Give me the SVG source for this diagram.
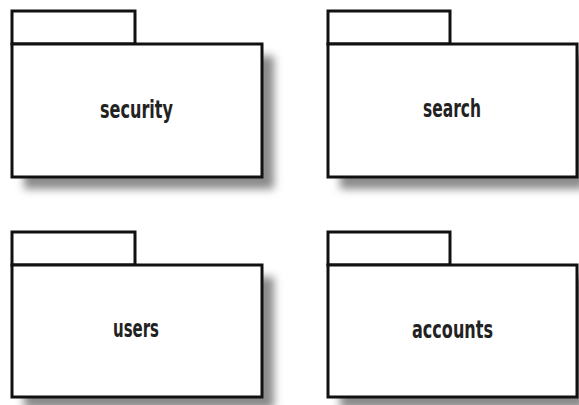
<svg xmlns="http://www.w3.org/2000/svg" width="579" height="405" viewBox="0 0 579 405">
<defs>
<filter id="sh" x="-10%" y="-10%" width="130%" height="130%">
<feGaussianBlur stdDeviation="4"/>
</filter>
<style>
.shadow{fill:#8a8a8a;filter:url(#sh)}
.box{fill:#fff;stroke:#111;stroke-width:3}
.lbl{font-family:"DejaVu Sans",sans-serif;font-weight:bold;font-size:25px;fill:#222;text-anchor:middle}
</style>
</defs>
<rect width="579" height="405" fill="#fff"/>
<g id="security">
<rect class="shadow" x="24" y="56" width="250" height="133"/>
<rect class="box" x="12" y="11" width="123" height="33"/>
<rect class="box" x="12" y="44" width="250" height="133"/>
<text class="lbl" x="136.5" y="118" textLength="73" lengthAdjust="spacingAndGlyphs">security</text>
</g>
<g id="search">
<rect class="shadow" x="340" y="56" width="245" height="133"/>
<rect class="box" x="328" y="11" width="122" height="33"/>
<rect class="box" x="328" y="44" width="249" height="133"/>
<text class="lbl" x="452" y="117" textLength="58" lengthAdjust="spacingAndGlyphs">search</text>
</g>
<g id="users">
<rect class="shadow" x="24" y="277" width="250" height="132"/>
<rect class="box" x="12" y="232" width="123" height="33"/>
<rect class="box" x="12" y="265" width="250" height="132"/>
<text class="lbl" x="136" y="337" textLength="46" lengthAdjust="spacingAndGlyphs">users</text>
</g>
<g id="accounts">
<rect class="shadow" x="340" y="277" width="245" height="132"/>
<rect class="box" x="328" y="232" width="122" height="33"/>
<rect class="box" x="328" y="265" width="249" height="132"/>
<text class="lbl" x="452.5" y="338" textLength="81" lengthAdjust="spacingAndGlyphs">accounts</text>
</g>
<g id="connectors"/>
</svg>
